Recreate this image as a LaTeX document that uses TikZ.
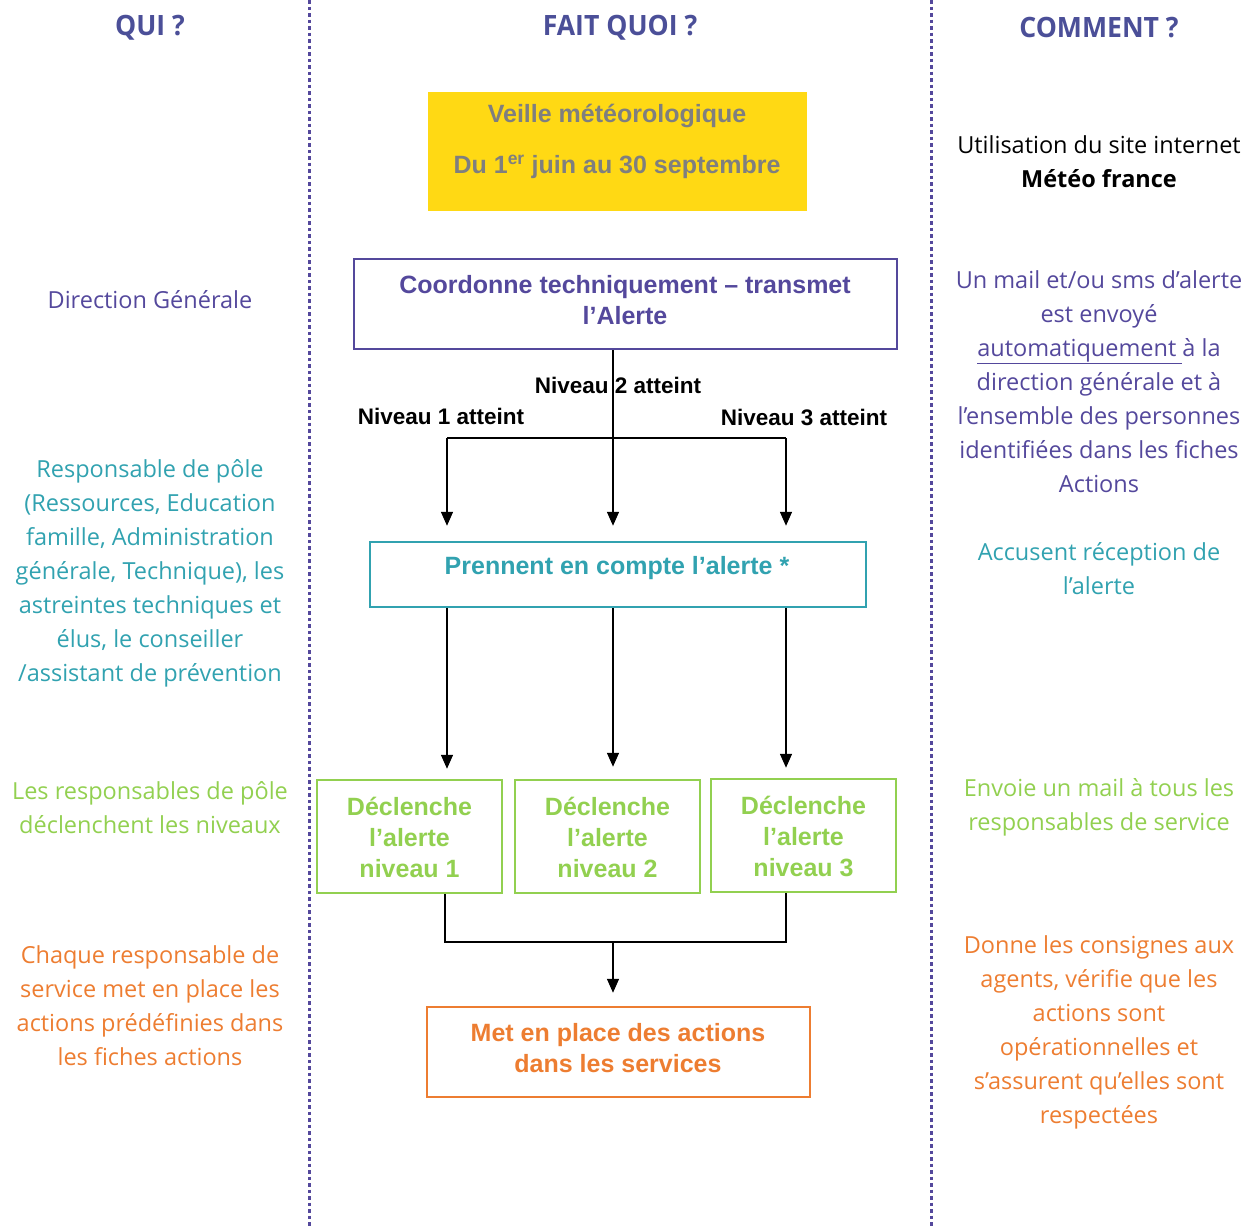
\documentclass[tikz,border=0pt]{standalone}
\usepackage{fontspec}
\setmainfont{Open Sans}
\newfontfamily\arialf{Liberation Sans}
\newfontfamily\condf[FakeStretch=0.95]{Open Sans}
\usetikzlibrary{arrows.meta}
\definecolor{cpurple}{HTML}{54489C}
\definecolor{chead}{HTML}{4B4F98}
\definecolor{cteal}{HTML}{31A2B0}
\definecolor{cgreen}{HTML}{92D050}
\definecolor{corange}{HTML}{ED7D31}
\definecolor{cyellow}{HTML}{FFD914}
\definecolor{cgrey}{HTML}{7F7F7F}
\begin{document}
\begin{tikzpicture}[x=1pt,y=-1pt,
  sep/.style={cpurple, line width=3pt, dash pattern=on 3.5pt off 3pt},
  head/.style={inner sep=0, text=chead, font=\condf\bfseries\fontsize{28}{32}\selectfont},
  txt/.style={inner sep=0, align=center, font=\fontsize{23.5}{34}\selectfont},
  box/.style={draw, line width=2.5pt, inner sep=0},
  btxt/.style={inner sep=0, align=center, font=\arialf\bfseries\fontsize{25}{31}\selectfont},
  lvl/.style={inner sep=0, font=\arialf\bfseries\fontsize{22.5}{24}\selectfont},
  arr/.style={line width=1.5pt, -{Triangle[width=12pt,length=14pt]}},
  ln/.style={line width=1.5pt}
]
\useasboundingbox (0,0) rectangle (1251,1226);
\draw[sep] (309,0) -- (309,1226);
\draw[sep] (931,0) -- (931,1226);

% headers
\node[head] (h1) at (150,28) {QUI ?};
\node[head] (h2) at (620,28) {FAIT QUOI ?};
\node[head] (h3) at (1099,28) {COMMENT ?};

% boxes
\node[fill=cyellow, inner sep=0, minimum width=379pt, minimum height=119pt] (veille) at (617.5,151.5) {};
\node[btxt, text=cgrey, font=\arialf\bfseries\fontsize{25}{51}\selectfont] (veilleT) at (617,141.5) {Veille météorologique\\Du 1\textsuperscript{er} juin au 30 septembre};

\node[box, draw=cpurple, minimum width=543pt, minimum height=90pt] (coord) at (625.5,304) {};
\node[btxt, text=cpurple] (coordT) at (625,300.5) {Coordonne techniquement – transmet\\l’Alerte};

\node[box, draw=cteal, minimum width=496pt, minimum height=65pt] (prise) at (618,574.5) {};
\node[btxt, text=cteal] (priseT) at (617,568) {Prennent en compte l’alerte *};

\node[box, draw=cgreen, minimum width=185pt, minimum height=113pt] (g1) at (409.5,836.5) {};
\node[box, draw=cgreen, minimum width=185pt, minimum height=113pt] (g2) at (607.5,836.5) {};
\node[box, draw=cgreen, minimum width=185pt, minimum height=113pt] (g3) at (803.5,835.5) {};
\node[btxt, text=cgreen] (g1T) at (409.5,837) {Déclenche\\l’alerte\\niveau 1};
\node[btxt, text=cgreen] (g2T) at (607.5,837) {Déclenche\\l’alerte\\niveau 2};
\node[btxt, text=cgreen] (g3T) at (803.5,836) {Déclenche\\l’alerte\\niveau 3};

\node[box, draw=corange, minimum width=383pt, minimum height=90pt] (actions) at (618.5,1052) {};
\node[btxt, text=corange] (actionsT) at (618,1048.5) {Met en place des actions\\dans les services};

% connectors
\coordinate (c1) at (447,438);
\coordinate (c2) at (613,438);
\coordinate (c3) at (786,438);
\draw[arr, shorten >=15pt] (coord.south -| c2) -- (prise.north -| c2);
\draw[ln] (c1) -- (c3);
\draw[arr, shorten >=15pt] (c1) -- (prise.north -| c1);
\draw[arr, shorten >=15pt] (c3) -- (prise.north -| c3);
\draw[arr, shorten >=10pt] (prise.south -| c1) -- (g1.north -| c1);
\draw[arr, shorten >=12pt] (prise.south -| c2) -- (g2.north -| c2);
\draw[arr, shorten >=10pt] (prise.south -| c3) -- (g3.north -| c3);
\coordinate (m1) at (445,942);
\coordinate (m2) at (613,942);
\coordinate (m3) at (786,942);
\draw[ln] (g1.south -| m1) -- (m1) -- (m3) -- (g3.south -| m3);
\draw[arr, shorten >=13pt] (m2) -- (actions.north -| m2);

\node[lvl] (n2) at (618,385) {Niveau 2 atteint};
\node[lvl] (n1) at (441,416) {Niveau 1 atteint};
\node[lvl] (n3) at (804,417) {Niveau 3 atteint};

% left column
\node[txt, text=cpurple] (l1) at (150,300) {Direction Générale};
\node[txt, text=cteal] (l2) at (150,573) {Responsable de pôle\\(Ressources, Education\\famille, Administration\\générale, Technique), les\\astreintes techniques et\\élus, le conseiller\\/assistant de prévention};
\node[txt, text=cgreen] (l3) at (150,808) {Les responsables de pôle\\déclenchent les niveaux};
\node[txt, text=corange] (l4) at (150,1006) {Chaque responsable de\\service met en place les\\actions prédéfinies dans\\les fiches actions};

% right column
\node[txt, text=black] (r0) at (1099,161.5) {Utilisation du site internet\\\textbf{Météo france}};
\node[txt, text=cpurple] (r1) at (1099,381.5) {Un mail et/ou sms d’alerte\\est envoyé\\\underline{automatiquement }à la\\direction générale et à\\l’ensemble des personnes\\identifiées dans les fiches\\Actions};
\node[txt, text=cteal] (r2) at (1099,569) {Accusent réception de\\l’alerte};
\node[txt, text=cgreen] (r3) at (1099,807) {Envoie un mail à tous les\\responsables de service};
\node[txt, text=corange] (r4) at (1099,1032) {Donne les consignes aux\\agents, vérifie que les\\actions sont\\opérationnelles et\\s’assurent qu’elles sont\\respectées};
\end{tikzpicture}
\end{document}
